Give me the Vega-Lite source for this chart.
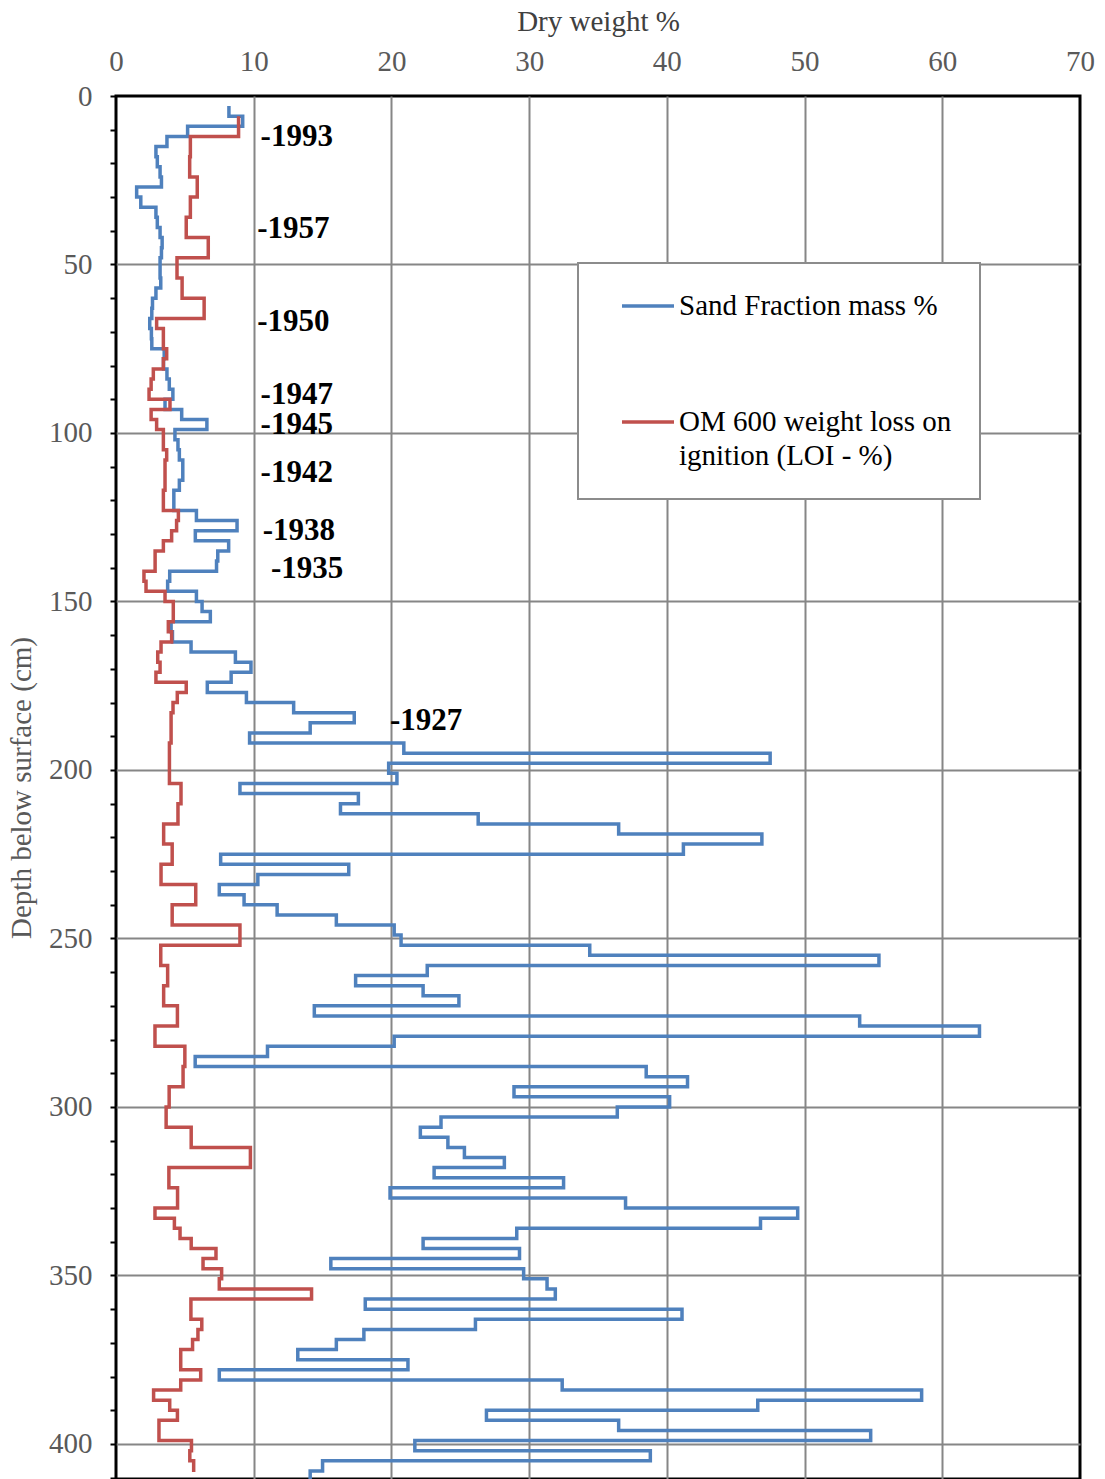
{
  "$schema": "https://vega.github.io/schema/vega-lite/v6.json",
  "width": 964,
  "height": 1383,
  "autosize": {"type": "none"},
  "padding": {"left": 116, "top": 96, "right": 25, "bottom": 0},
  "background": "white",
  "config": {"view": {"stroke": "black", "strokeWidth": 3}, "font": "Liberation Serif"},
  "datasets": {
    "sand": [
      {"series": "Sand Fraction mass %", "depth": 3, "value": 8.2},
      {"series": "Sand Fraction mass %", "depth": 6, "value": 9.2},
      {"series": "Sand Fraction mass %", "depth": 9, "value": 5.2},
      {"series": "Sand Fraction mass %", "depth": 12, "value": 3.7},
      {"series": "Sand Fraction mass %", "depth": 15, "value": 2.9},
      {"series": "Sand Fraction mass %", "depth": 18, "value": 3.0},
      {"series": "Sand Fraction mass %", "depth": 21, "value": 3.2},
      {"series": "Sand Fraction mass %", "depth": 24, "value": 3.3},
      {"series": "Sand Fraction mass %", "depth": 27, "value": 1.5},
      {"series": "Sand Fraction mass %", "depth": 30, "value": 1.8},
      {"series": "Sand Fraction mass %", "depth": 33, "value": 2.9},
      {"series": "Sand Fraction mass %", "depth": 36, "value": 3.0},
      {"series": "Sand Fraction mass %", "depth": 39, "value": 3.2},
      {"series": "Sand Fraction mass %", "depth": 42, "value": 3.35},
      {"series": "Sand Fraction mass %", "depth": 45, "value": 3.3},
      {"series": "Sand Fraction mass %", "depth": 48, "value": 3.2},
      {"series": "Sand Fraction mass %", "depth": 51, "value": 3.2},
      {"series": "Sand Fraction mass %", "depth": 54, "value": 3.25},
      {"series": "Sand Fraction mass %", "depth": 57, "value": 2.9},
      {"series": "Sand Fraction mass %", "depth": 60, "value": 2.65},
      {"series": "Sand Fraction mass %", "depth": 63, "value": 2.6},
      {"series": "Sand Fraction mass %", "depth": 66, "value": 2.45},
      {"series": "Sand Fraction mass %", "depth": 69, "value": 2.57},
      {"series": "Sand Fraction mass %", "depth": 72, "value": 2.6},
      {"series": "Sand Fraction mass %", "depth": 75, "value": 3.5},
      {"series": "Sand Fraction mass %", "depth": 78, "value": 3.45},
      {"series": "Sand Fraction mass %", "depth": 81, "value": 3.7},
      {"series": "Sand Fraction mass %", "depth": 84, "value": 3.87},
      {"series": "Sand Fraction mass %", "depth": 87, "value": 4.13},
      {"series": "Sand Fraction mass %", "depth": 90, "value": 3.56},
      {"series": "Sand Fraction mass %", "depth": 93, "value": 4.77},
      {"series": "Sand Fraction mass %", "depth": 96, "value": 6.6},
      {"series": "Sand Fraction mass %", "depth": 99, "value": 4.28},
      {"series": "Sand Fraction mass %", "depth": 102, "value": 4.5},
      {"series": "Sand Fraction mass %", "depth": 105, "value": 4.6},
      {"series": "Sand Fraction mass %", "depth": 108, "value": 4.85},
      {"series": "Sand Fraction mass %", "depth": 111, "value": 4.85},
      {"series": "Sand Fraction mass %", "depth": 114, "value": 4.6},
      {"series": "Sand Fraction mass %", "depth": 117, "value": 4.2},
      {"series": "Sand Fraction mass %", "depth": 120, "value": 4.2},
      {"series": "Sand Fraction mass %", "depth": 123, "value": 5.84},
      {"series": "Sand Fraction mass %", "depth": 126, "value": 8.79},
      {"series": "Sand Fraction mass %", "depth": 129, "value": 5.76},
      {"series": "Sand Fraction mass %", "depth": 132, "value": 8.18},
      {"series": "Sand Fraction mass %", "depth": 135, "value": 7.39},
      {"series": "Sand Fraction mass %", "depth": 138, "value": 7.3},
      {"series": "Sand Fraction mass %", "depth": 141, "value": 3.9},
      {"series": "Sand Fraction mass %", "depth": 144, "value": 3.75},
      {"series": "Sand Fraction mass %", "depth": 147, "value": 5.84},
      {"series": "Sand Fraction mass %", "depth": 150, "value": 6.25},
      {"series": "Sand Fraction mass %", "depth": 153, "value": 6.85},
      {"series": "Sand Fraction mass %", "depth": 156, "value": 4.0},
      {"series": "Sand Fraction mass %", "depth": 159, "value": 4.1},
      {"series": "Sand Fraction mass %", "depth": 162, "value": 5.45},
      {"series": "Sand Fraction mass %", "depth": 165, "value": 8.67},
      {"series": "Sand Fraction mass %", "depth": 168, "value": 9.8},
      {"series": "Sand Fraction mass %", "depth": 171, "value": 8.36},
      {"series": "Sand Fraction mass %", "depth": 174, "value": 6.63},
      {"series": "Sand Fraction mass %", "depth": 177, "value": 9.47},
      {"series": "Sand Fraction mass %", "depth": 180, "value": 12.9},
      {"series": "Sand Fraction mass %", "depth": 183, "value": 17.3},
      {"series": "Sand Fraction mass %", "depth": 186, "value": 14.1},
      {"series": "Sand Fraction mass %", "depth": 189, "value": 9.7},
      {"series": "Sand Fraction mass %", "depth": 192, "value": 20.9},
      {"series": "Sand Fraction mass %", "depth": 195, "value": 47.5},
      {"series": "Sand Fraction mass %", "depth": 198, "value": 19.8},
      {"series": "Sand Fraction mass %", "depth": 201, "value": 20.4},
      {"series": "Sand Fraction mass %", "depth": 204, "value": 9.0},
      {"series": "Sand Fraction mass %", "depth": 207, "value": 17.6},
      {"series": "Sand Fraction mass %", "depth": 210, "value": 16.3},
      {"series": "Sand Fraction mass %", "depth": 213, "value": 26.3},
      {"series": "Sand Fraction mass %", "depth": 216, "value": 36.5},
      {"series": "Sand Fraction mass %", "depth": 219, "value": 46.9},
      {"series": "Sand Fraction mass %", "depth": 222, "value": 41.2},
      {"series": "Sand Fraction mass %", "depth": 225, "value": 7.6},
      {"series": "Sand Fraction mass %", "depth": 228, "value": 16.9},
      {"series": "Sand Fraction mass %", "depth": 231, "value": 10.3},
      {"series": "Sand Fraction mass %", "depth": 234, "value": 7.5},
      {"series": "Sand Fraction mass %", "depth": 237, "value": 9.3},
      {"series": "Sand Fraction mass %", "depth": 240, "value": 11.7},
      {"series": "Sand Fraction mass %", "depth": 243, "value": 16.0},
      {"series": "Sand Fraction mass %", "depth": 246, "value": 20.2},
      {"series": "Sand Fraction mass %", "depth": 249, "value": 20.7},
      {"series": "Sand Fraction mass %", "depth": 252, "value": 34.4},
      {"series": "Sand Fraction mass %", "depth": 255, "value": 55.4},
      {"series": "Sand Fraction mass %", "depth": 258, "value": 22.6},
      {"series": "Sand Fraction mass %", "depth": 261, "value": 17.4},
      {"series": "Sand Fraction mass %", "depth": 264, "value": 22.3},
      {"series": "Sand Fraction mass %", "depth": 267, "value": 24.9},
      {"series": "Sand Fraction mass %", "depth": 270, "value": 14.4},
      {"series": "Sand Fraction mass %", "depth": 273, "value": 54.0},
      {"series": "Sand Fraction mass %", "depth": 276, "value": 62.7},
      {"series": "Sand Fraction mass %", "depth": 279, "value": 20.2},
      {"series": "Sand Fraction mass %", "depth": 282, "value": 11.0},
      {"series": "Sand Fraction mass %", "depth": 285, "value": 5.75},
      {"series": "Sand Fraction mass %", "depth": 288, "value": 38.5},
      {"series": "Sand Fraction mass %", "depth": 291, "value": 41.5},
      {"series": "Sand Fraction mass %", "depth": 294, "value": 28.9},
      {"series": "Sand Fraction mass %", "depth": 297, "value": 40.2},
      {"series": "Sand Fraction mass %", "depth": 300, "value": 36.4},
      {"series": "Sand Fraction mass %", "depth": 303, "value": 23.6},
      {"series": "Sand Fraction mass %", "depth": 306, "value": 22.1},
      {"series": "Sand Fraction mass %", "depth": 309, "value": 24.1},
      {"series": "Sand Fraction mass %", "depth": 312, "value": 25.3},
      {"series": "Sand Fraction mass %", "depth": 315, "value": 28.2},
      {"series": "Sand Fraction mass %", "depth": 318, "value": 23.1},
      {"series": "Sand Fraction mass %", "depth": 321, "value": 32.5},
      {"series": "Sand Fraction mass %", "depth": 324, "value": 19.9},
      {"series": "Sand Fraction mass %", "depth": 327, "value": 37.0},
      {"series": "Sand Fraction mass %", "depth": 330, "value": 49.5},
      {"series": "Sand Fraction mass %", "depth": 333, "value": 46.8},
      {"series": "Sand Fraction mass %", "depth": 336, "value": 29.1},
      {"series": "Sand Fraction mass %", "depth": 339, "value": 22.3},
      {"series": "Sand Fraction mass %", "depth": 342, "value": 29.3},
      {"series": "Sand Fraction mass %", "depth": 345, "value": 15.6},
      {"series": "Sand Fraction mass %", "depth": 348, "value": 29.6},
      {"series": "Sand Fraction mass %", "depth": 351, "value": 31.3},
      {"series": "Sand Fraction mass %", "depth": 354, "value": 31.9},
      {"series": "Sand Fraction mass %", "depth": 357, "value": 18.1},
      {"series": "Sand Fraction mass %", "depth": 360, "value": 41.1},
      {"series": "Sand Fraction mass %", "depth": 363, "value": 26.1},
      {"series": "Sand Fraction mass %", "depth": 366, "value": 18.0},
      {"series": "Sand Fraction mass %", "depth": 369, "value": 16.0},
      {"series": "Sand Fraction mass %", "depth": 372, "value": 13.2},
      {"series": "Sand Fraction mass %", "depth": 375, "value": 21.2},
      {"series": "Sand Fraction mass %", "depth": 378, "value": 7.5},
      {"series": "Sand Fraction mass %", "depth": 381, "value": 32.4},
      {"series": "Sand Fraction mass %", "depth": 384, "value": 58.5},
      {"series": "Sand Fraction mass %", "depth": 387, "value": 46.6},
      {"series": "Sand Fraction mass %", "depth": 390, "value": 26.9},
      {"series": "Sand Fraction mass %", "depth": 393, "value": 36.5},
      {"series": "Sand Fraction mass %", "depth": 396, "value": 54.8},
      {"series": "Sand Fraction mass %", "depth": 399, "value": 21.7},
      {"series": "Sand Fraction mass %", "depth": 402, "value": 38.8},
      {"series": "Sand Fraction mass %", "depth": 405, "value": 15.0},
      {"series": "Sand Fraction mass %", "depth": 408, "value": 14.1},
      {"series": "Sand Fraction mass %", "depth": 411, "value": 14.1}
    ],
    "om": [
      {"series": "OM 600 weight loss on ignition (LOI - %)", "depth": 6, "value": 8.9},
      {"series": "OM 600 weight loss on ignition (LOI - %)", "depth": 12, "value": 5.4},
      {"series": "OM 600 weight loss on ignition (LOI - %)", "depth": 18, "value": 5.35},
      {"series": "OM 600 weight loss on ignition (LOI - %)", "depth": 24, "value": 5.9},
      {"series": "OM 600 weight loss on ignition (LOI - %)", "depth": 30, "value": 5.4},
      {"series": "OM 600 weight loss on ignition (LOI - %)", "depth": 36, "value": 5.1},
      {"series": "OM 600 weight loss on ignition (LOI - %)", "depth": 42, "value": 6.7},
      {"series": "OM 600 weight loss on ignition (LOI - %)", "depth": 48, "value": 4.43},
      {"series": "OM 600 weight loss on ignition (LOI - %)", "depth": 54, "value": 4.8},
      {"series": "OM 600 weight loss on ignition (LOI - %)", "depth": 60, "value": 6.4},
      {"series": "OM 600 weight loss on ignition (LOI - %)", "depth": 66, "value": 2.95},
      {"series": "OM 600 weight loss on ignition (LOI - %)", "depth": 69, "value": 3.44},
      {"series": "OM 600 weight loss on ignition (LOI - %)", "depth": 75, "value": 3.68},
      {"series": "OM 600 weight loss on ignition (LOI - %)", "depth": 78, "value": 3.44},
      {"series": "OM 600 weight loss on ignition (LOI - %)", "depth": 81, "value": 2.71},
      {"series": "OM 600 weight loss on ignition (LOI - %)", "depth": 84, "value": 2.55},
      {"series": "OM 600 weight loss on ignition (LOI - %)", "depth": 87, "value": 2.4},
      {"series": "OM 600 weight loss on ignition (LOI - %)", "depth": 90, "value": 3.92},
      {"series": "OM 600 weight loss on ignition (LOI - %)", "depth": 93, "value": 2.55},
      {"series": "OM 600 weight loss on ignition (LOI - %)", "depth": 96, "value": 2.95},
      {"series": "OM 600 weight loss on ignition (LOI - %)", "depth": 99, "value": 3.44},
      {"series": "OM 600 weight loss on ignition (LOI - %)", "depth": 105, "value": 3.68},
      {"series": "OM 600 weight loss on ignition (LOI - %)", "depth": 108, "value": 3.56},
      {"series": "OM 600 weight loss on ignition (LOI - %)", "depth": 117, "value": 3.44},
      {"series": "OM 600 weight loss on ignition (LOI - %)", "depth": 123, "value": 4.53},
      {"series": "OM 600 weight loss on ignition (LOI - %)", "depth": 126, "value": 4.4},
      {"series": "OM 600 weight loss on ignition (LOI - %)", "depth": 129, "value": 4.04},
      {"series": "OM 600 weight loss on ignition (LOI - %)", "depth": 132, "value": 3.44},
      {"series": "OM 600 weight loss on ignition (LOI - %)", "depth": 135, "value": 2.84},
      {"series": "OM 600 weight loss on ignition (LOI - %)", "depth": 141, "value": 2.03},
      {"series": "OM 600 weight loss on ignition (LOI - %)", "depth": 144, "value": 2.18},
      {"series": "OM 600 weight loss on ignition (LOI - %)", "depth": 147, "value": 3.56},
      {"series": "OM 600 weight loss on ignition (LOI - %)", "depth": 150, "value": 4.16},
      {"series": "OM 600 weight loss on ignition (LOI - %)", "depth": 156, "value": 3.8},
      {"series": "OM 600 weight loss on ignition (LOI - %)", "depth": 159, "value": 4.04},
      {"series": "OM 600 weight loss on ignition (LOI - %)", "depth": 162, "value": 3.27},
      {"series": "OM 600 weight loss on ignition (LOI - %)", "depth": 165, "value": 3.03},
      {"series": "OM 600 weight loss on ignition (LOI - %)", "depth": 168, "value": 3.2},
      {"series": "OM 600 weight loss on ignition (LOI - %)", "depth": 171, "value": 2.9},
      {"series": "OM 600 weight loss on ignition (LOI - %)", "depth": 174, "value": 5.1},
      {"series": "OM 600 weight loss on ignition (LOI - %)", "depth": 177, "value": 4.45},
      {"series": "OM 600 weight loss on ignition (LOI - %)", "depth": 180, "value": 4.14},
      {"series": "OM 600 weight loss on ignition (LOI - %)", "depth": 183, "value": 4.0},
      {"series": "OM 600 weight loss on ignition (LOI - %)", "depth": 192, "value": 3.88},
      {"series": "OM 600 weight loss on ignition (LOI - %)", "depth": 204, "value": 4.72},
      {"series": "OM 600 weight loss on ignition (LOI - %)", "depth": 210, "value": 4.5},
      {"series": "OM 600 weight loss on ignition (LOI - %)", "depth": 216, "value": 3.46},
      {"series": "OM 600 weight loss on ignition (LOI - %)", "depth": 222, "value": 4.08},
      {"series": "OM 600 weight loss on ignition (LOI - %)", "depth": 228, "value": 3.27},
      {"series": "OM 600 weight loss on ignition (LOI - %)", "depth": 234, "value": 5.79},
      {"series": "OM 600 weight loss on ignition (LOI - %)", "depth": 240, "value": 4.08},
      {"series": "OM 600 weight loss on ignition (LOI - %)", "depth": 246, "value": 9.0},
      {"series": "OM 600 weight loss on ignition (LOI - %)", "depth": 252, "value": 3.25},
      {"series": "OM 600 weight loss on ignition (LOI - %)", "depth": 258, "value": 3.75},
      {"series": "OM 600 weight loss on ignition (LOI - %)", "depth": 264, "value": 3.46},
      {"series": "OM 600 weight loss on ignition (LOI - %)", "depth": 270, "value": 4.46},
      {"series": "OM 600 weight loss on ignition (LOI - %)", "depth": 276, "value": 2.83},
      {"series": "OM 600 weight loss on ignition (LOI - %)", "depth": 282, "value": 5.0},
      {"series": "OM 600 weight loss on ignition (LOI - %)", "depth": 288, "value": 4.87},
      {"series": "OM 600 weight loss on ignition (LOI - %)", "depth": 294, "value": 3.86},
      {"series": "OM 600 weight loss on ignition (LOI - %)", "depth": 300, "value": 3.64},
      {"series": "OM 600 weight loss on ignition (LOI - %)", "depth": 306, "value": 5.46},
      {"series": "OM 600 weight loss on ignition (LOI - %)", "depth": 312, "value": 9.76},
      {"series": "OM 600 weight loss on ignition (LOI - %)", "depth": 318, "value": 3.84},
      {"series": "OM 600 weight loss on ignition (LOI - %)", "depth": 324, "value": 4.47},
      {"series": "OM 600 weight loss on ignition (LOI - %)", "depth": 330, "value": 2.83},
      {"series": "OM 600 weight loss on ignition (LOI - %)", "depth": 333, "value": 4.24},
      {"series": "OM 600 weight loss on ignition (LOI - %)", "depth": 336, "value": 4.65},
      {"series": "OM 600 weight loss on ignition (LOI - %)", "depth": 339, "value": 5.46},
      {"series": "OM 600 weight loss on ignition (LOI - %)", "depth": 342, "value": 7.26},
      {"series": "OM 600 weight loss on ignition (LOI - %)", "depth": 345, "value": 6.32},
      {"series": "OM 600 weight loss on ignition (LOI - %)", "depth": 348, "value": 7.67},
      {"series": "OM 600 weight loss on ignition (LOI - %)", "depth": 351, "value": 7.5},
      {"series": "OM 600 weight loss on ignition (LOI - %)", "depth": 354, "value": 14.2},
      {"series": "OM 600 weight loss on ignition (LOI - %)", "depth": 357, "value": 5.44},
      {"series": "OM 600 weight loss on ignition (LOI - %)", "depth": 363, "value": 6.23},
      {"series": "OM 600 weight loss on ignition (LOI - %)", "depth": 366, "value": 5.95},
      {"series": "OM 600 weight loss on ignition (LOI - %)", "depth": 369, "value": 5.56},
      {"series": "OM 600 weight loss on ignition (LOI - %)", "depth": 372, "value": 4.7},
      {"series": "OM 600 weight loss on ignition (LOI - %)", "depth": 378, "value": 6.15},
      {"series": "OM 600 weight loss on ignition (LOI - %)", "depth": 381, "value": 4.7},
      {"series": "OM 600 weight loss on ignition (LOI - %)", "depth": 384, "value": 2.73},
      {"series": "OM 600 weight loss on ignition (LOI - %)", "depth": 387, "value": 3.9},
      {"series": "OM 600 weight loss on ignition (LOI - %)", "depth": 390, "value": 4.46},
      {"series": "OM 600 weight loss on ignition (LOI - %)", "depth": 393, "value": 3.12},
      {"series": "OM 600 weight loss on ignition (LOI - %)", "depth": 399, "value": 5.48},
      {"series": "OM 600 weight loss on ignition (LOI - %)", "depth": 402, "value": 5.36},
      {"series": "OM 600 weight loss on ignition (LOI - %)", "depth": 405, "value": 5.64},
      {"series": "OM 600 weight loss on ignition (LOI - %)", "depth": 408.3, "value": 5.64}
    ],
    "labels": [
      {"label": "-1993", "depth": 12.2, "value": 10.5},
      {"label": "-1957", "depth": 39.5, "value": 10.25},
      {"label": "-1950", "depth": 67, "value": 10.25},
      {"label": "-1947", "depth": 88.7, "value": 10.5},
      {"label": "-1945", "depth": 97.6, "value": 10.5},
      {"label": "-1942", "depth": 111.9, "value": 10.5},
      {"label": "-1938", "depth": 129, "value": 10.65},
      {"label": "-1935", "depth": 140.4, "value": 11.25},
      {"label": "-1927", "depth": 185.5, "value": 19.9}
    ]
  },
  "layer": [
    {
      "data": {"name": "sand"},
      "mark": {"type": "line", "interpolate": "step-before", "strokeWidth": 3.5, "clip": true},
      "encoding": {
        "x": {
          "field": "value", "type": "quantitative",
          "scale": {"domain": [0, 70], "nice": false},
          "axis": {
            "orient": "top", "title": "Dry weight %", "format": "d",
            "values": [0, 10, 20, 30, 40, 50, 60, 70],
            "grid": true, "gridColor": "#868686", "gridWidth": 2,
            "gridOpacity": {"condition": {"test": "datum.value > 0 && datum.value < 70", "value": 1}, "value": 0},
            "ticks": false, "tickSize": 0, "domain": false,
            "labelFont": "Liberation Serif", "labelFontSize": 29, "labelColor": "#595959",
            "labelPadding": 20, "labelFlush": false, "labelOverlap": false,
            "titleFont": "Liberation Serif", "titleFontSize": 29, "titleFontWeight": "normal",
            "titleColor": "#404040", "titlePadding": 11
          }
        },
        "y": {
          "field": "depth", "type": "quantitative",
          "scale": {"domain": [0, 410.4], "reverse": true, "nice": false},
          "axis": {
            "orient": "left", "title": "Depth below surface (cm)", "format": "d",
            "values": [0, 10, 20, 30, 40, 50, 60, 70, 80, 90, 100, 110, 120, 130, 140, 150, 160, 170, 180, 190, 200, 210, 220, 230, 240, 250, 260, 270, 280, 290, 300, 310, 320, 330, 340, 350, 360, 370, 380, 390, 400, 410],
            "tickCount": 100,
            "labelExpr": "datum.value % 50 === 0 ? datum.label : ''",
            "grid": true, "gridColor": "#868686", "gridWidth": 2,
            "gridOpacity": {"condition": {"test": "datum.value % 50 === 0 && datum.value > 0", "value": 1}, "value": 0},
            "ticks": true, "tickSize": 6, "tickColor": "black", "tickWidth": 2, "domain": false,
            "labelFont": "Liberation Serif", "labelFontSize": 29, "labelColor": "#595959",
            "labelPadding": 18, "labelFlush": false, "labelOverlap": false,
            "titleFont": "Liberation Serif", "titleFontSize": 29, "titleFontWeight": "normal",
            "titleColor": "#595959", "titlePadding": 12
          }
        },
        "color": {
          "field": "series", "type": "nominal",
          "scale": {"domain": ["Sand Fraction mass %", "OM 600 weight loss on ignition (LOI - %)"], "range": ["#4f81bd", "#c0504d"]},
          "legend": {
            "title": null, "orient": "none", "legendX": 462, "legendY": 167,
            "symbolType": "M-2,0H2", "symbolSize": 676, "symbolStrokeWidth": 3.5,
            "labelFont": "Liberation Serif", "labelFontSize": 29, "labelColor": "black",
            "labelLimit": 400, "labelOffset": 16, "padding": 28, "symbolOffset": 27, "rowPadding": 86,
            "strokeColor": "#8c8c8c", "fillColor": "white",
            "labelExpr": "datum.label == 'Sand Fraction mass %' ? datum.label : ['OM 600 weight loss on', 'ignition (LOI - %)']",
            "encode": {
              "legend": {"update": {"strokeWidth": {"value": 2}}},
              "labels": {"update": {"lineHeight": {"value": 34}}}
            }
          }
        },
        "order": {"field": "depth", "type": "quantitative"}
      }
    },
    {
      "data": {"name": "om"},
      "mark": {"type": "line", "interpolate": "step-before", "strokeWidth": 3.5, "clip": true},
      "encoding": {
        "x": {"field": "value", "type": "quantitative"},
        "y": {"field": "depth", "type": "quantitative"},
        "color": {"field": "series", "type": "nominal"},
        "order": {"field": "depth", "type": "quantitative"}
      }
    },
    {
      "data": {"name": "labels"},
      "mark": {"type": "text", "align": "left", "baseline": "middle", "font": "Liberation Serif", "fontWeight": "bold", "fontSize": 31, "color": "black"},
      "encoding": {
        "x": {"field": "value", "type": "quantitative"},
        "y": {"field": "depth", "type": "quantitative"},
        "text": {"field": "label", "type": "nominal"}
      }
    }
  ]
}
